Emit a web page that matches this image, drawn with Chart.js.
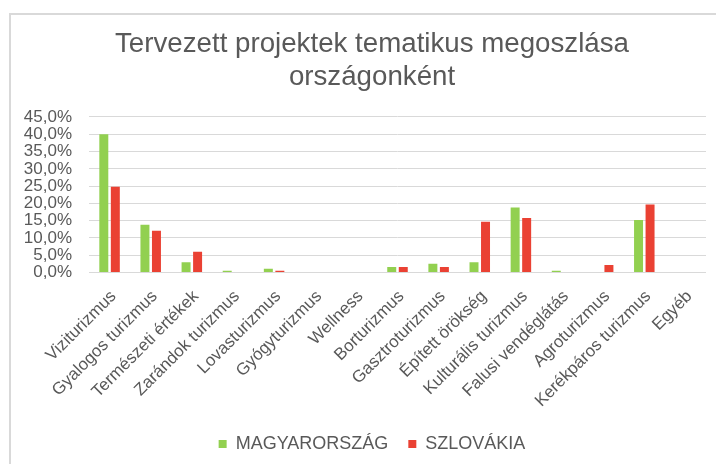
<!DOCTYPE html>
<html lang="hu">
<head>
<meta charset="utf-8">
<title>Tervezett projektek tematikus megoszlása országonként</title>
<script src="https://cdn.jsdelivr.net/npm/chart.js@4.4.1/dist/chart.umd.min.js"></script>
<style>
  html, body { margin: 0; padding: 0; background: #fff; overflow: hidden; }
  body { width: 716px; height: 464px; position: relative; }
  .frame { position: absolute; left: 9px; top: 13px; width: 800px; height: 500px; border: 2px solid #d9d9d9; }
  #chart { position: absolute; left: 0; top: 0; }
</style>
</head>
<body>
<div class="frame"></div>
<canvas id="chart" width="716" height="464"></canvas>
<script>
// Témák (kategóriák) és országonkénti arányok, %-ban
const categories = [
  'Viziturizmus', 'Gyalogos turizmus', 'Természeti értékek', 'Zarándok turizmus',
  'Lovasturizmus', 'Gyógyturizmus', 'Wellness', 'Borturizmus', 'Gasztroturizmus',
  'Épített örökség', 'Kulturális turizmus', 'Falusi vendéglátás', 'Agroturizmus',
  'Kerékpáros turizmus', 'Egyéb'
];
const magyarorszag = [40.0, 13.8, 3.0, 0.5, 1.1, 0, 0, 1.6, 2.5, 3.0, 18.8, 0.5, 0, 15.2, 0];
const szlovakia    = [24.8, 12.1, 6.0, 0, 0.5, 0, 0, 1.6, 1.6, 14.7, 15.8, 0, 2.2, 19.7, 0];
const yTicks = [0, 5, 10, 15, 20, 25, 30, 35, 40, 45];

const TEXT = '#595959';
const FONT = 'Liberation Sans, Arial, sans-serif';

new Chart(document.getElementById('chart'), {
  type: 'bar',
  data: {
    labels: categories,
    datasets: [
      { label: 'MAGYARORSZÁG', data: magyarorszag, backgroundColor: '#92d050' },
      { label: 'SZLOVÁKIA', data: szlovakia, backgroundColor: '#ea4133' }
    ]
  },
  options: {
    responsive: false,
    animation: false,
    layout: { padding: { left: 38, right: 10, top: 0, bottom: 1 } },
    datasets: { bar: { categoryPercentage: 0.56, barPercentage: 0.78 } },
    plugins: {
      tooltip: { enabled: false },
      title: {
        display: true,
        text: ['Tervezett projektek tematikus megoszlása', 'országonként'],
        color: TEXT,
        font: { family: FONT, size: 27.7, weight: 'normal', lineHeight: 1.2 },
        padding: { top: 27.5, bottom: 23 }
      },
      legend: {
        position: 'bottom',
        labels: {
          color: TEXT,
          font: { family: FONT, size: 18 },
          boxWidth: 8,
          boxHeight: 8,
          padding: 20
        }
      }
    },
    scales: {
      x: {
        grid: { display: false },
        border: { display: false },
        ticks: {
          color: TEXT,
          font: { family: FONT, size: 17 },
          autoSkip: false,
          minRotation: 45,
          maxRotation: 45,
          padding: 6,
          labelOffset: 4
        },
        afterFit: s => { s.height = 142.5; }
      },
      y: {
        min: 0,
        max: 45,
        afterBuildTicks: s => { s.ticks = yTicks.map(v => ({ value: v })); },
        grid: { color: '#d9d9d9', lineWidth: 1, drawTicks: false },
        border: { display: false },
        ticks: {
          color: TEXT,
          font: { family: FONT, size: 17 },
          autoSkip: false,
          padding: 17,
          callback: v => v.toFixed(1).replace('.', ',') + '%'
        },
        // labels reach left of the narrow axis box, so don't clip them
        afterFit: s => { s.width = 51; s._computeLabelArea = () => undefined; }
      }
    }
  }
});
</script>
</body>
</html>
